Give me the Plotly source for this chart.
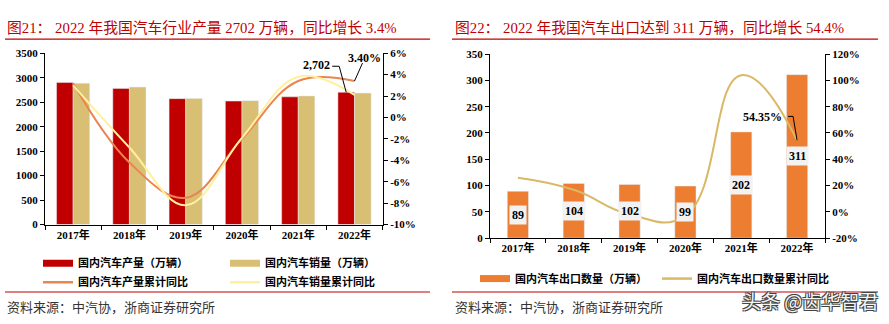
import plotly.graph_objects as go

# ---------------- data ----------------
years = ["2017年", "2018年", "2019年", "2020年", "2021年", "2022年"]
prod = [2902, 2781, 2572, 2523, 2608, 2702]
sales = [2888, 2808, 2577, 2531, 2627, 2686]
prod_yoy = [3.2, -4.2, -7.5, -2.0, 3.4, 3.4]
sales_yoy = [3.0, -2.8, -8.2, -1.9, 3.8, 2.1]
export = [89, 104, 102, 99, 202, 311]
export_yoy = [26.0, 16.8, -1.9, -2.9, 104.0, 54.35]

left_ticks = [0, 500, 1000, 1500, 2000, 2500, 3000, 3500]
left_pct_vals = [-10, -8, -6, -4, -2, 0, 2, 4, 6]
left_pct_text = ["-10%", "-8%", "-6%", "-4%", "-2%", "0%", "2%", "4%", "6%"]
right_ticks = [0, 50, 100, 150, 200, 250, 300, 350]
right_pct_vals = [-20, 0, 20, 40, 60, 80, 100, 120]
right_pct_text = ["-20%", "0%", "20%", "40%", "60%", "80%", "100%", "120%"]

title_left = "图21： 2022 年我国汽车行业产量 2702 万辆，同比增长 3.4%"
title_right = "图22： 2022 年我国汽车出口达到 311 万辆，同比增长 54.4%"
source = "资料来源：中汽协，浙商证券研究所"

# ---------------- styles ----------------
W, H = 889, 324
SERIF = "Liberation Serif, Noto Sans CJK SC"
CJK = "Noto Sans CJK SC"
RED = "#C00000"
TAN = "#D8BF73"
ORANGE_LINE = "#EA8550"
YELLOW_LINE = "#FFF0A0"
EXPORT_BAR = "#ED7D31"
EXPORT_LINE = "#D9B866"
TITLE_RED = "#C00000"


def px_x(p):
    return p / W


def px_y(p):
    return (H - p) / H


tickfont = dict(family=SERIF, size=11, color="black", weight="bold")
legfont = dict(family=CJK, size=11, color="black", weight="bold")

fig = go.Figure()

# ---- left chart ----
fig.add_trace(go.Bar(x=years, y=prod, name="国内汽车产量（万辆）", marker_color=RED,
                     xaxis="x", yaxis="y", showlegend=False))
fig.add_trace(go.Bar(x=years, y=sales, name="国内汽车销量（万辆）", marker_color=TAN,
                     xaxis="x", yaxis="y", showlegend=False))
fig.add_trace(go.Scatter(x=years, y=prod_yoy, name="国内汽车产量累计同比", mode="lines",
                         line=dict(color=ORANGE_LINE, width=2, shape="spline", smoothing=1.1),
                         xaxis="x", yaxis="y2", showlegend=False))
fig.add_trace(go.Scatter(x=years, y=sales_yoy, name="国内汽车销量累计同比", mode="lines",
                         line=dict(color=YELLOW_LINE, width=2, shape="spline", smoothing=1.1),
                         xaxis="x", yaxis="y2", showlegend=False))

# legend entries (thick line swatches mimic the flat bar swatches)
fig.add_trace(go.Scatter(x=[None], y=[None], mode="lines", name="国内汽车产量（万辆）",
                         line=dict(color=RED, width=7), xaxis="x", yaxis="y", legend="legend"))
fig.add_trace(go.Scatter(x=[None], y=[None], mode="lines", name="国内汽车产量累计同比",
                         line=dict(color=ORANGE_LINE, width=2.5), xaxis="x", yaxis="y", legend="legend"))
fig.add_trace(go.Scatter(x=[None], y=[None], mode="lines", name="国内汽车销量（万辆）",
                         line=dict(color=TAN, width=7), xaxis="x", yaxis="y", legend="legend2"))
fig.add_trace(go.Scatter(x=[None], y=[None], mode="lines", name="国内汽车销量累计同比",
                         line=dict(color=YELLOW_LINE, width=2.5), xaxis="x", yaxis="y", legend="legend2"))

# ---- right chart ----
fig.add_trace(go.Bar(x=years, y=export, name="国内汽车出口数量（万辆）", marker_color=EXPORT_BAR,
                     width=0.38, xaxis="x2", yaxis="y3", showlegend=False))
fig.add_trace(go.Scatter(x=years, y=export_yoy, name="国内汽车出口数量累计同比", mode="lines",
                         line=dict(color=EXPORT_LINE, width=2, shape="spline", smoothing=1.3),
                         xaxis="x2", yaxis="y4", showlegend=False))
fig.add_trace(go.Scatter(x=[None], y=[None], mode="lines", name="国内汽车出口数量（万辆）",
                         line=dict(color=EXPORT_BAR, width=7), xaxis="x2", yaxis="y3", legend="legend3"))
fig.add_trace(go.Scatter(x=[None], y=[None], mode="lines", name="国内汽车出口数量累计同比",
                         line=dict(color=EXPORT_LINE, width=2.5), xaxis="x2", yaxis="y3", legend="legend4"))

axis_common = dict(showline=True, linecolor="black", linewidth=1, showgrid=False, zeroline=False,
                   ticks="outside", tickcolor="black", ticklen=4, tickfont=tickfont, fixedrange=True)

fig.update_layout(
    width=W, height=H, margin=dict(l=0, r=0, t=0, b=0),
    paper_bgcolor="white", plot_bgcolor="white",
    barmode="group", bargap=0.41, bargroupgap=0,
    xaxis=dict(domain=[px_x(45), px_x(383)], anchor="y", type="category",
               tickson="boundaries", **axis_common),
    yaxis=dict(domain=[px_y(227), px_y(49)], anchor="x", range=[0, 3500],
               tickvals=left_ticks, **axis_common),
    yaxis2=dict(overlaying="y", side="right", anchor="x", range=[-10, 6],
                tickvals=left_pct_vals, ticktext=left_pct_text, **axis_common),
    xaxis2=dict(domain=[px_x(490), px_x(825)], anchor="y3", type="category",
                tickson="boundaries", **axis_common),
    yaxis3=dict(domain=[px_y(241), px_y(50)], anchor="x2", range=[0, 350],
                tickvals=right_ticks, **axis_common),
    yaxis4=dict(overlaying="y3", side="right", anchor="x2", range=[-20, 120],
                tickvals=right_pct_vals, ticktext=right_pct_text, **axis_common),
)

leg_common = dict(orientation="v", font=legfont, bgcolor="rgba(0,0,0,0)", borderwidth=0,
                  yanchor="top", xanchor="left", itemwidth=30, tracegroupgap=0)
fig.update_layout(
    legend=dict(x=px_x(38), y=px_y(252), **leg_common),
    legend2=dict(x=px_x(225), y=px_y(252), **leg_common),
    legend3=dict(x=px_x(475), y=px_y(268), **leg_common),
    legend4=dict(x=px_x(657), y=px_y(268), **leg_common),
)

ann = []
# titles
ann.append(dict(text=title_left, xref="paper", yref="paper", x=px_x(5), y=px_y(22.7),
                xanchor="left", yanchor="middle", showarrow=False,
                font=dict(family=SERIF, size=14.8, color=TITLE_RED)))
ann.append(dict(text=title_right, xref="paper", yref="paper", x=px_x(453), y=px_y(22.7),
                xanchor="left", yanchor="middle", showarrow=False,
                font=dict(family=SERIF, size=14.8, color=TITLE_RED)))
# sources
ann.append(dict(text=source, xref="paper", yref="paper", x=px_x(5), y=px_y(312),
                xanchor="left", yanchor="middle", showarrow=False,
                font=dict(family=CJK, size=13, color="#333333")))
ann.append(dict(text=source, xref="paper", yref="paper", x=px_x(453), y=px_y(312),
                xanchor="left", yanchor="middle", showarrow=False,
                font=dict(family=CJK, size=13, color="#333333")))

# left chart data annotations
bar_off = (1 - 0.41) / 4
ann.append(dict(text=f"{prod[-1]:,}", x=len(years) - 1 - bar_off, y=prod[-1], xref="x", yref="y",
                xanchor="right", yanchor="middle", xshift=-14.5, yshift=27.5, showarrow=False,
                font=dict(family=SERIF, size=12, color="black", weight="bold")))
ann.append(dict(text=f"{prod_yoy[-1]:.2f}%", x=len(years) - 1, y=prod_yoy[-1], xref="x", yref="y2",
                xanchor="center", yanchor="middle", xshift=10, yshift=23.5, showarrow=False,
                font=dict(family=SERIF, size=12, color="black", weight="bold")))
# right chart data annotations
ann.append(dict(text=f"{export_yoy[-1]:.2f}%", x=len(years) - 1, y=export_yoy[-1], xref="x2", yref="y4",
                xanchor="right", yanchor="middle", xshift=-13, yshift=23, showarrow=False,
                font=dict(family=SERIF, size=12, color="black", weight="bold")))
for i, v in enumerate(export):
    ann.append(dict(text=str(v), x=i, y=v / 2, xref="x2", yref="y3", showarrow=False,
                    bgcolor="#F2F2F2", borderpad=2,
                    font=dict(family=SERIF, size=12, color="black", weight="bold")))

# watermark
ann.append(dict(text="头条 @齿华智君", xref="paper", yref="paper", x=px_x(879), y=px_y(306),
                xanchor="right", yanchor="middle", showarrow=False, borderpad=0,
                font=dict(family=CJK, size=19, color="#f4f4f4",
                          shadow="1px 1px 0 #444, -1px -1px 0 #444, 1px -1px 0 #444, -1px 1px 0 #444")))
fig.update_layout(annotations=ann)

shapes = []
# red rules
for x0, x1, yy in [(5, 430, 34.3), (452, 878, 34.3), (5, 430, 297), (452, 878, 297)]:
    shapes.append(dict(type="line", xref="paper", yref="paper", x0=px_x(x0), x1=px_x(x1),
                       y0=px_y(yy), y1=px_y(yy), line=dict(color=RED, width=1.2)))
# leader lines (pixel-sized, anchored to data points)
shapes.append(dict(type="path", xref="x", yref="y", xsizemode="pixel", ysizemode="pixel",
                   xanchor=len(years) - 1 - bar_off, yanchor=prod[-1],
                   path="M-14,26 L-7,26 L0,0", line=dict(color="black", width=1)))
shapes.append(dict(type="path", xref="x", yref="y2", xsizemode="pixel", ysizemode="pixel",
                   xanchor=len(years) - 1, yanchor=prod_yoy[-1],
                   path="M0,0 L8,18", line=dict(color="black", width=1)))
shapes.append(dict(type="path", xref="x2", yref="y4", xsizemode="pixel", ysizemode="pixel",
                   xanchor=len(years) - 1, yanchor=export_yoy[-1],
                   path="M-9,24 L-4,24 L0,0", line=dict(color="black", width=1)))
fig.update_layout(shapes=shapes)

fig.write_html("out.html")
